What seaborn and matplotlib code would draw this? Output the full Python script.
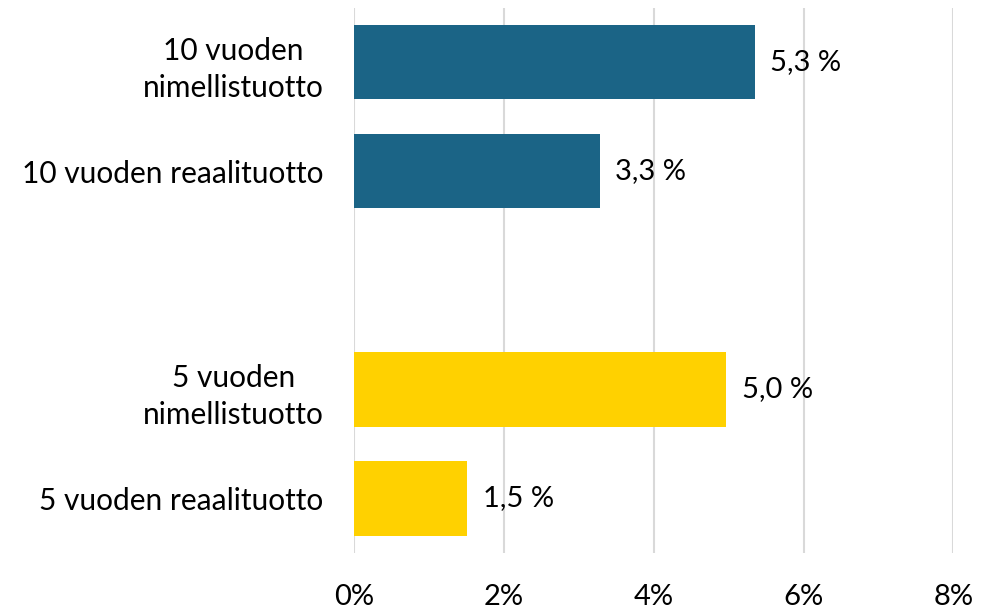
import pandas as pd
import matplotlib.pyplot as plt
import seaborn as sns

# Chart data
categories = ['10 vuoden\nnimellistuotto', '10 vuoden reaalituotto',
              '5 vuoden\nnimellistuotto', '5 vuoden reaalituotto']
values = [5.35, 3.28, 4.97, 1.51]
value_labels = ['5,3 %', '3,3 %', '5,0 %', '1,5 %']
bar_colors = ['#1B6486', '#1B6486', '#FFD100', '#FFD100']
x_ticks = [0, 2, 4, 6, 8]
x_tick_labels = ['0%', '2%', '4%', '6%', '8%']

# empty slot between the two groups
order = categories[:2] + [' '] + categories[2:]

df = pd.DataFrame({'category': categories, 'value': values})

sns.set_style('white')
plt.rcParams['font.family'] = ['Lato', 'DejaVu Sans']
plt.rcParams['text.color'] = 'black'
plt.rcParams['xtick.color'] = 'black'
plt.rcParams['ytick.color'] = 'black'

fig = plt.figure(figsize=(9.92, 6.08), dpi=100)
ax = fig.add_axes([0.357, 0.0905, 0.604, 0.8965])

sns.barplot(data=df, x='value', y='category', hue='category', order=order,
            hue_order=categories, palette=dict(zip(categories, bar_colors)),
            width=0.68, saturation=1, linewidth=0, legend=False, ax=ax)

# data labels
for cont, lab in zip(ax.containers, value_labels):
    ax.bar_label(cont, labels=[lab], padding=11, fontsize=21, color='black')

ax.set_xlim(0, 8)
ax.set_ylim(4.5, -0.5)
ax.set_xticks(x_ticks)
ax.set_xticklabels(x_tick_labels)
ax.xaxis.grid(True, color='#D9D9D9', linewidth=1.5)
ax.yaxis.grid(False)
ax.set_axisbelow(True)
ax.set_xlabel('')
ax.set_ylabel('')
sns.despine(ax=ax, left=True, bottom=True, top=True, right=True)
ax.tick_params(axis='x', length=0, pad=22, labelsize=21)
ax.tick_params(axis='y', length=0, pad=22, labelsize=21.5)
for t in ax.get_yticklabels():
    t.set_multialignment('center')
    t.set_linespacing(1.4)

fig.savefig('out.png', dpi=100)
